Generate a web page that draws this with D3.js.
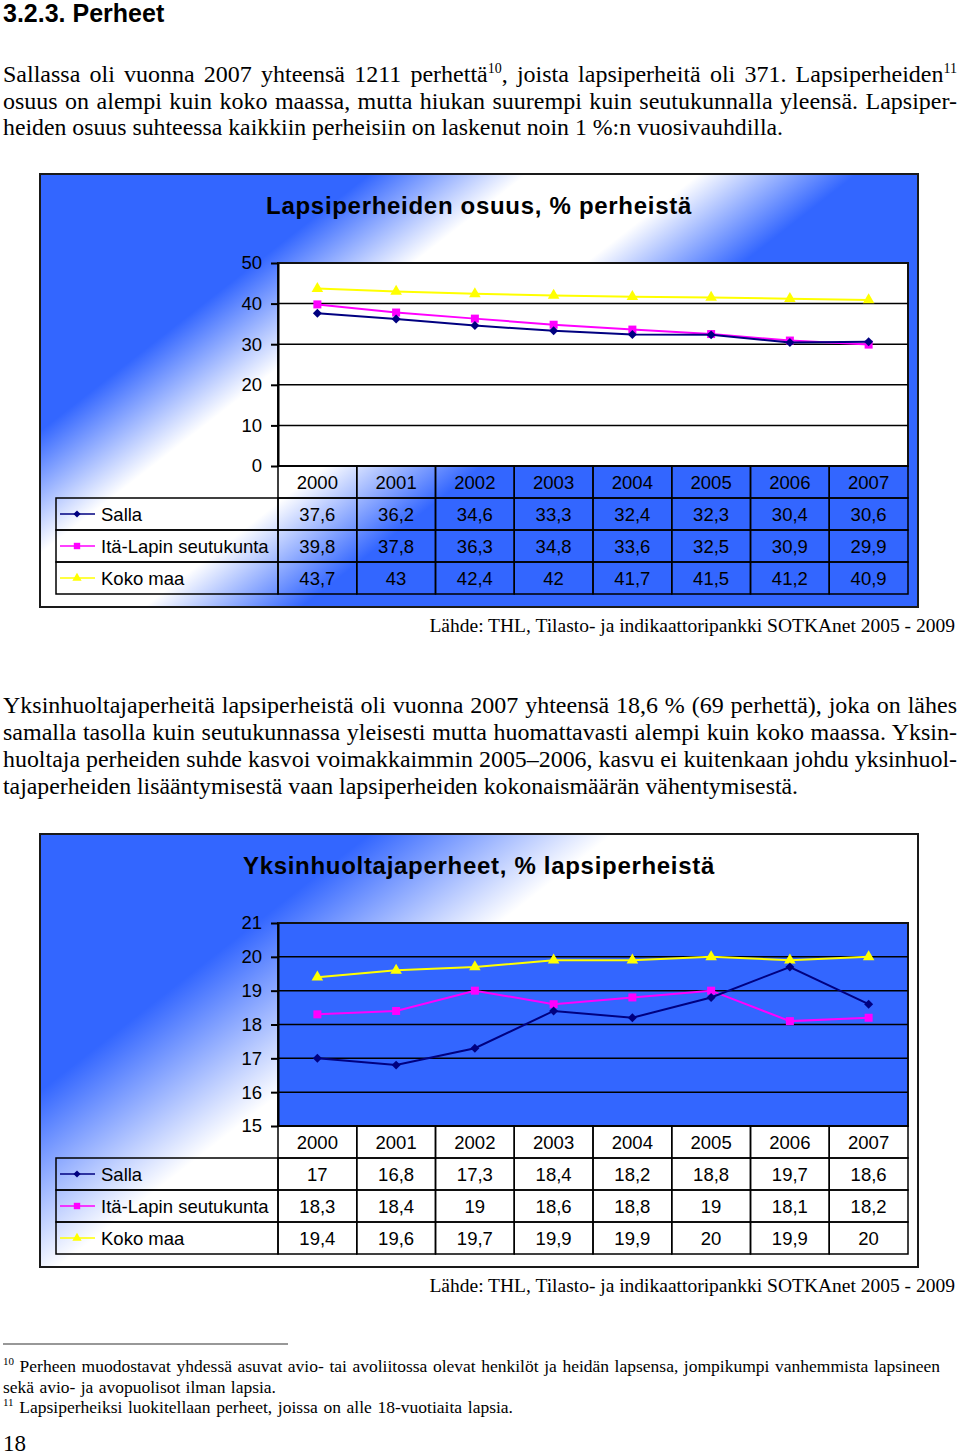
<!DOCTYPE html>
<html>
<head>
<meta charset="utf-8">
<script src="https://cdn.jsdelivr.net/npm/d3@7"></script>
<style>
  body { margin: 0; background: #fff; }
  svg { display: block; }
</style>
</head>
<body>
<script>
// --- data ---
var years = ["2000", "2001", "2002", "2003", "2004", "2005", "2006", "2007"];
var seriesNames = ["Salla", "Itä-Lapin seutukunta", "Koko maa"];

// Lapsiperheiden osuus, % perheistä
var osuusSalla = [37.6, 36.2, 34.6, 33.3, 32.4, 32.3, 30.4, 30.6];
var osuusItaLappi = [39.8, 37.8, 36.3, 34.8, 33.6, 32.5, 30.9, 29.9];
var osuusKokoMaa = [43.7, 43, 42.4, 42, 41.7, 41.5, 41.2, 40.9];
var osuusTicks = [0, 10, 20, 30, 40, 50];

// Yksinhuoltajaperheet, % lapsiperheistä
var yksinSalla = [17, 16.8, 17.3, 18.4, 18.2, 18.8, 19.7, 18.6];
var yksinItaLappi = [18.3, 18.4, 19, 18.6, 18.8, 19, 18.1, 18.2];
var yksinKokoMaa = [19.4, 19.6, 19.7, 19.9, 19.9, 20, 19.9, 20];
var yksinTicks = [15, 16, 17, 18, 19, 20, 21];

var source = "Lähde: THL, Tilasto- ja indikaattoripankki SOTKAnet 2005 - 2009";

// --- styles ---
var serif = "'Liberation Serif', 'Times New Roman', serif";
var sans = "'Liberation Sans', Arial, sans-serif";
var blue = "#3366ff";
var colors = ["#000080", "#ff00ff", "#ffff00"];
var fmt = function(d) { return String(d).replace(".", ","); };

var svg = d3.select("body").append("svg")
  .attr("width", 960)
  .attr("height", 1455);
var defs = svg.append("defs");

// tekstirivi, yläindeksit {sup: "10"}, tasaus sanavälillä
function textLine(y, parts, opt) {
  var t = svg.append("text")
    .attr("x", opt.x || 3)
    .attr("y", y)
    .style("font-family", serif)
    .style("font-size", opt.size + "px")
    .attr("fill", "#000");
  var shift = 0;
  parts.forEach(function(p) {
    var sup = typeof p !== "string";
    var ts = t.append("tspan").text(sup ? p.sup : p);
    var want = sup ? -opt.rise : 0;
    if (want !== shift) { ts.attr("dy", want - shift); shift = want; }
    if (sup) ts.style("font-size", opt.supSize + "px");
  });
  if (opt.right) {
    var w = t.node().getComputedTextLength();
    var spaces = (t.text().match(/ /g) || []).length;
    var target = opt.right - (opt.x || 3);
    if (w > target) {
      // liian leveä: puristetaan
      t.attr("textLength", target).attr("lengthAdjust", "spacingAndGlyphs");
    } else if (spaces > 0) {
      t.style("word-spacing", ((target - w) / spaces) + "px");
    }
  }
  return t;
}

// --- otsikko ja teksti ---
svg.append("text")
  .attr("x", 3).attr("y", 22)
  .style("font-family", sans).style("font-size", "25px").style("font-weight", "bold")
  .text("3.2.3. Perheet");

var body = { size: 24, supSize: 14, rise: 9 };
textLine(81.5, ["Sallassa oli vuonna 2007 yhteensä 1211 perhettä", {sup: "10"}, ", joista lapsiperheitä oli 371. Lapsiperheiden", {sup: "11"}],
  Object.assign({ right: 957 }, body));
textLine(108.5, ["osuus on alempi kuin koko maassa, mutta hiukan suurempi kuin seutukunnalla yleensä. Lapsiper-"],
  Object.assign({ right: 957 }, body));
textLine(135, ["heiden osuus suhteessa kaikkiin perheisiin on laskenut noin 1 %:n vuosivauhdilla."],
  Object.assign({ right: 783 }, body));

textLine(713, ["Yksinhuoltajaperheitä lapsiperheistä oli vuonna 2007 yhteensä 18,6 % (69 perhettä), joka on lähes"],
  Object.assign({ right: 957 }, body));
textLine(740, ["samalla tasolla kuin seutukunnassa yleisesti mutta huomattavasti alempi kuin koko maassa. Yksin-"],
  Object.assign({ right: 957 }, body));
textLine(767, ["huoltaja perheiden suhde kasvoi voimakkaimmin 2005–2006, kasvu ei kuitenkaan johdu yksinhuol-"],
  Object.assign({ right: 957 }, body));
textLine(794, ["tajaperheiden lisääntymisestä vaan lapsiperheiden kokonaismäärän vähentymisestä."],
  Object.assign({ right: 798 }, body));

// alaviitteet
svg.append("line")
  .attr("x1", 3).attr("x2", 288).attr("y1", 1344).attr("y2", 1344)
  .attr("stroke", "#333").attr("stroke-width", 1.2);
var foot = { size: 17.5, supSize: 11, rise: 7 };
textLine(1372, [{sup: "10"}, " Perheen muodostavat yhdessä asuvat avio- tai avoliitossa olevat henkilöt ja heidän lapsensa, jompikumpi vanhemmista lapsineen"],
  Object.assign({ right: 940 }, foot));
textLine(1393, ["sekä avio- ja avopuolisot ilman lapsia."], Object.assign({ right: 276 }, foot));
textLine(1413, [{sup: "11"}, " Lapsiperheiksi luokitellaan perheet, joissa on alle 18-vuotiaita lapsia."],
  Object.assign({ right: 513 }, foot));
textLine(1451, ["18"], { size: 23 });

// --- kaaviot ---
var chartL = 40, chartR = 918, chartH = 433;
var plotL = 278, plotR = 908, legL = 56, rowH = 32;

function makeGradient(id, top, stops) {
  var lg = defs.append("linearGradient")
    .attr("id", id)
    .attr("gradientUnits", "userSpaceOnUse")
    .attr("x1", chartL).attr("y1", top)
    .attr("x2", chartL + 542).attr("y2", top + 695);
  lg.selectAll("stop").data(stops).join("stop")
    .attr("offset", function(d) { return d[0]; })
    .attr("stop-color", function(d) { return d[1]; });
}

function markerPath(i) {
  if (i === 0) return d3.symbol().type(d3.symbolSquare).size(40)();
  if (i === 1) return d3.symbol().type(d3.symbolSquare).size(64)();
  return d3.symbol().type(d3.symbolTriangle).size(58)();
}
var markerRot = [45, 0, 0];

function drawChart(top, cfg) {
  var g = svg.append("g");

  g.append("rect")
    .attr("x", chartL).attr("y", top)
    .attr("width", chartR - chartL).attr("height", chartH)
    .attr("fill", "url(#" + cfg.grad + ")")
    .attr("stroke", "#1a1a1a").attr("stroke-width", 2);

  g.append("text")
    .attr("x", 479).attr("y", top + 40)
    .attr("text-anchor", "middle")
    .style("font-family", sans).style("font-size", "24px").style("font-weight", "bold")
    .style("letter-spacing", "0.7px")
    .text(cfg.title);

  var plotTop = top + 89, plotBot = top + 292;
  var x = d3.scaleBand().domain(years).range([plotL, plotR]);
  var y = d3.scaleLinear().domain(cfg.domain).range([plotBot, plotTop]);
  var cx = function(i) { return x(years[i]) + x.bandwidth() / 2; };

  g.append("rect")
    .attr("x", plotL).attr("y", plotTop)
    .attr("width", plotR - plotL).attr("height", plotBot - plotTop)
    .attr("fill", cfg.plotFill)
    .attr("stroke", "#111").attr("stroke-width", 2);

  g.append("g").selectAll("line")
    .data(cfg.ticks.slice(1, -1))
    .join("line")
    .attr("x1", plotL).attr("x2", plotR)
    .attr("y1", y).attr("y2", y)
    .attr("stroke", "#000").attr("stroke-width", 1.5);

  var axis = g.append("g")
    .attr("transform", "translate(" + plotL + ",0)")
    .call(d3.axisLeft(y).tickValues(cfg.ticks).tickSize(7).tickSizeOuter(0).tickPadding(9).tickFormat(fmt));
  axis.attr("font-family", null).attr("font-size", null);
  axis.selectAll("line, path").attr("stroke", "#000").attr("stroke-width", 2);
  axis.selectAll("text")
    .style("font-family", sans).style("font-size", "18.5px").attr("fill", "#000");

  // taulukko: vuodet
  var table = g.append("g")
    .style("font-family", sans).style("font-size", "18.5px");
  table.selectAll("rect.year").data(years).join("rect")
    .attr("class", "year")
    .attr("x", function(d) { return x(d); }).attr("y", plotBot)
    .attr("width", x.bandwidth()).attr("height", rowH)
    .attr("fill", "none").attr("stroke", "#000").attr("stroke-width", 1.5);
  table.selectAll("text.year").data(years).join("text")
    .attr("class", "year")
    .attr("x", function(d) { return x(d) + x.bandwidth() / 2; })
    .attr("y", plotBot + rowH / 2)
    .attr("dy", "0.36em")
    .attr("text-anchor", "middle")
    .text(function(d) { return d; });

  cfg.series.forEach(function(s, si) {
    var ry = plotBot + rowH * (si + 1);
    var row = table.append("g");
    row.append("rect")
      .attr("x", legL).attr("y", ry)
      .attr("width", plotL - legL).attr("height", rowH)
      .attr("fill", "none").attr("stroke", "#000").attr("stroke-width", 1.5);
    row.selectAll("rect.val").data(s.values).join("rect")
      .attr("class", "val")
      .attr("x", function(d, i) { return x(years[i]); }).attr("y", ry)
      .attr("width", x.bandwidth()).attr("height", rowH)
      .attr("fill", "none").attr("stroke", "#000").attr("stroke-width", 1.5);
    row.selectAll("text.val").data(s.values).join("text")
      .attr("class", "val")
      .attr("x", function(d, i) { return cx(i); })
      .attr("y", ry + rowH / 2).attr("dy", "0.36em")
      .attr("text-anchor", "middle")
      .text(fmt);
    // selite
    row.append("line")
      .attr("x1", 60).attr("x2", 95)
      .attr("y1", ry + rowH / 2).attr("y2", ry + rowH / 2)
      .attr("stroke", colors[si]).attr("stroke-width", 1.5);
    row.append("path")
      .attr("d", markerPath(si))
      .attr("transform", "translate(77," + (ry + rowH / 2) + ") rotate(" + markerRot[si] + ") scale(0.8)")
      .attr("fill", colors[si]);
    row.append("text")
      .attr("x", 101).attr("y", ry + rowH / 2).attr("dy", "0.36em")
      .text(s.name);
  });

  // viivat
  var line = d3.line()
    .x(function(d, i) { return cx(i); })
    .y(function(d) { return y(d); });
  var drawOrder = [2, 1, 0];
  drawOrder.forEach(function(si) {
    var s = cfg.series[si];
    g.append("path")
      .datum(s.values)
      .attr("d", line)
      .attr("fill", "none")
      .attr("stroke", colors[si]).attr("stroke-width", 2);
    g.append("g").selectAll("path")
      .data(s.values)
      .join("path")
      .attr("d", markerPath(si))
      .attr("transform", function(d, i) {
        return "translate(" + cx(i) + "," + y(d) + ") rotate(" + markerRot[si] + ")";
      })
      .attr("fill", colors[si]);
  });

  svg.append("text")
    .attr("x", 955).attr("y", top + chartH + 25)
    .attr("text-anchor", "end")
    .style("font-family", serif).style("font-size", "19.5px")
    .text(source);
}

makeGradient("grad1", 174, [[0, blue], [0.23, blue], [0.34, "#ffffff"], [0.46, "#ffffff"], [0.57, blue], [1, blue]]);
makeGradient("grad2", 834, [[0, blue], [0.23, blue], [0.4, "#ffffff"], [1, "#ffffff"]]);

drawChart(174, {
  grad: "grad1",
  title: "Lapsiperheiden osuus, % perheistä",
  domain: [0, 50],
  ticks: osuusTicks,
  plotFill: "#ffffff",
  series: [
    { name: seriesNames[0], values: osuusSalla },
    { name: seriesNames[1], values: osuusItaLappi },
    { name: seriesNames[2], values: osuusKokoMaa }
  ]
});

drawChart(834, {
  grad: "grad2",
  title: "Yksinhuoltajaperheet, % lapsiperheistä",
  domain: [15, 21],
  ticks: yksinTicks,
  plotFill: blue,
  series: [
    { name: seriesNames[0], values: yksinSalla },
    { name: seriesNames[1], values: yksinItaLappi },
    { name: seriesNames[2], values: yksinKokoMaa }
  ]
});
</script>
</body>
</html>
